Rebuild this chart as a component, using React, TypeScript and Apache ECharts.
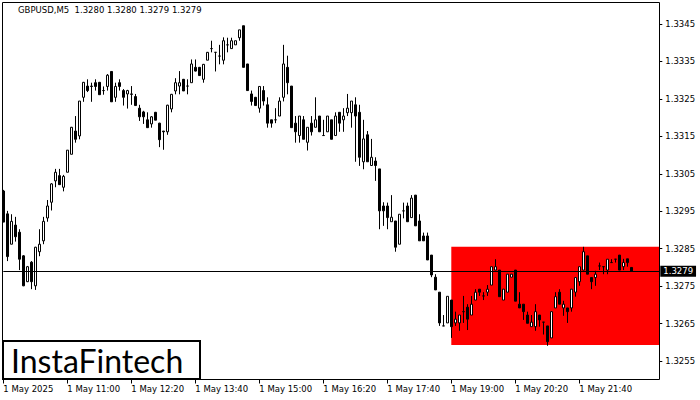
import React, { useEffect, useRef } from "react";
import * as echarts from "echarts";

const symbolTitle = "GBPUSD,M5  1.3280 1.3280 1.3279 1.3279";
const logoText = "InstaFintech";

const openP = [
  1.33004, 1.32943, 1.32862, 1.32913, 1.32894, 1.32831, 1.32762, 1.32814, 1.32751, 1.32842,
  1.32871, 1.32932, 1.32974, 1.33031, 1.33045, 1.33014, 1.33054, 1.33102, 1.33164, 1.33151,
  1.33254, 1.33284, 1.33284, 1.33293, 1.33294, 1.33272, 1.33283, 1.33323, 1.33254, 1.33293,
  1.33272, 1.33263, 1.33263, 1.33256, 1.33225, 1.33215, 1.33194, 1.33183, 1.33214, 1.33185,
  1.33164, 1.33162, 1.33223, 1.33271, 1.33284, 1.33302, 1.33284, 1.33293, 1.33334, 1.33334,
  1.33302, 1.33353, 1.33384, 1.33374, 1.33364, 1.33353, 1.33394, 1.33384, 1.33394, 1.33413,
  1.33445, 1.33343, 1.33263, 1.33254, 1.33225, 1.33272, 1.33234, 1.33194, 1.33194, 1.33204,
  1.33254, 1.33334, 1.33284, 1.33185, 1.33152, 1.33194, 1.33134, 1.33185, 1.33174, 1.33204,
  1.33152, 1.33162, 1.33194, 1.33152, 1.33214, 1.33194, 1.33213, 1.33213, 1.33234, 1.33214,
  1.33082, 1.33154, 1.33072, 1.33084, 1.33063, 1.32964, 1.32964, 1.32922, 1.32924, 1.32862,
  1.32951, 1.32964, 1.32933, 1.32993, 1.32924, 1.32884, 1.32884, 1.32833, 1.32774, 1.32734,
  1.32644, 1.32652, 1.32713, 1.32652, 1.32652, 1.32682, 1.32694, 1.32673, 1.32713, 1.32742,
  1.32724, 1.32734, 1.32753, 1.32793, 1.32793, 1.32713, 1.32734, 1.32774, 1.32793, 1.32702,
  1.32702, 1.32673, 1.32642, 1.32642, 1.32673, 1.32654, 1.32644, 1.32612, 1.32692, 1.32734,
  1.32692, 1.32692, 1.32692, 1.32734, 1.32762, 1.32793, 1.32831, 1.32773, 1.32773, 1.32804,
  1.32802, 1.32793, 1.32813, 1.32822, 1.32833, 1.32802, 1.32823, 1.328
];
const closeP = [
  1.32921, 1.32829, 1.32923, 1.32882, 1.32822, 1.32751, 1.32802, 1.32762, 1.32854, 1.32862,
  1.32923, 1.32964, 1.33023, 1.33054, 1.33021, 1.33043, 1.33113, 1.33174, 1.33142, 1.33244,
  1.33294, 1.33272, 1.33283, 1.33283, 1.33261, 1.33272, 1.33313, 1.33242, 1.33283, 1.33283,
  1.33254, 1.33272, 1.33262, 1.33232, 1.33202, 1.33202, 1.33173, 1.33202, 1.33193, 1.33141,
  1.33162, 1.33233, 1.33262, 1.33293, 1.33293, 1.33271, 1.33284, 1.33343, 1.33324, 1.33312,
  1.33342, 1.33374, 1.33384, 1.33374, 1.33364, 1.33405, 1.33394, 1.33405, 1.33405, 1.33434,
  1.33334, 1.33272, 1.33243, 1.33232, 1.33283, 1.33244, 1.33185, 1.33185, 1.33194, 1.33244,
  1.33343, 1.33293, 1.33173, 1.33162, 1.33204, 1.33142, 1.33174, 1.33162, 1.33194, 1.33162,
  1.33152, 1.33204, 1.33142, 1.33204, 1.33185, 1.33204, 1.33225, 1.33244, 1.33204, 1.33094,
  1.33143, 1.33082, 1.33094, 1.33072, 1.32951, 1.32951, 1.32933, 1.32934, 1.32854, 1.32942,
  1.32951, 1.32922, 1.32985, 1.32911, 1.32871, 1.32871, 1.3282, 1.3278, 1.3274, 1.32652,
  1.32644, 1.32723, 1.32642, 1.32662, 1.32673, 1.32682, 1.32662, 1.32702, 1.32734, 1.32734,
  1.32724, 1.32742, 1.32802, 1.32802, 1.32722, 1.32742, 1.32782, 1.32782, 1.3271, 1.32692,
  1.32682, 1.32651, 1.32654, 1.32682, 1.3266, 1.32654, 1.32602, 1.32682, 1.32722, 1.32702,
  1.32702, 1.32682, 1.32742, 1.32773, 1.32802, 1.32842, 1.32782, 1.32762, 1.32782, 1.32804,
  1.32802, 1.32822, 1.32813, 1.32822, 1.32793, 1.32813, 1.32813, 1.3279
];
const lowP = [
  1.32921, 1.32817, 1.32862, 1.32869, 1.32793, 1.3275, 1.32761, 1.32742, 1.3274, 1.3283,
  1.32862, 1.32922, 1.32952, 1.33014, 1.3302, 1.33003, 1.33054, 1.33102, 1.33133, 1.33142,
  1.33242, 1.33268, 1.33242, 1.33272, 1.33261, 1.33261, 1.33272, 1.33242, 1.33242, 1.33272,
  1.33232, 1.33224, 1.33234, 1.33232, 1.33191, 1.33183, 1.33173, 1.33173, 1.33193, 1.33121,
  1.33114, 1.33154, 1.33214, 1.33262, 1.33262, 1.33271, 1.33262, 1.33293, 1.33323, 1.33312,
  1.33293, 1.33353, 1.33374, 1.33323, 1.33342, 1.33342, 1.33374, 1.33384, 1.33394, 1.33405,
  1.33334, 1.33272, 1.33232, 1.33232, 1.33213, 1.33232, 1.33173, 1.33173, 1.33185, 1.33204,
  1.33243, 1.33262, 1.33173, 1.33133, 1.33133, 1.33142, 1.33112, 1.33152, 1.33174, 1.33162,
  1.33152, 1.33162, 1.33142, 1.33152, 1.33162, 1.33162, 1.33204, 1.33173, 1.33082, 1.33071,
  1.33062, 1.33082, 1.33072, 1.33031, 1.32902, 1.32911, 1.32902, 1.32922, 1.32842, 1.32862,
  1.32931, 1.32922, 1.32933, 1.32911, 1.32871, 1.32871, 1.3282, 1.32774, 1.3274, 1.32644,
  1.32644, 1.32652, 1.32612, 1.32644, 1.32631, 1.32652, 1.32633, 1.32673, 1.32713, 1.32724,
  1.32713, 1.32724, 1.32753, 1.32793, 1.32722, 1.32713, 1.32734, 1.32774, 1.3271, 1.32692,
  1.3266, 1.32651, 1.32642, 1.32631, 1.32642, 1.32621, 1.32591, 1.32612, 1.32692, 1.32702,
  1.32671, 1.32652, 1.32682, 1.32722, 1.32751, 1.32793, 1.32782, 1.32742, 1.32751, 1.32793,
  1.32782, 1.32782, 1.32813, 1.32813, 1.32793, 1.32793, 1.32802, 1.3279
];
const highP = [
  1.33007, 1.32951, 1.32942, 1.32935, 1.32902, 1.32833, 1.32804, 1.32817, 1.32855, 1.32902,
  1.32935, 1.3298, 1.33025, 1.33063, 1.33063, 1.33047, 1.33113, 1.33175, 1.33204, 1.33244,
  1.33295, 1.33302, 1.33293, 1.33302, 1.33295, 1.33283, 1.33316, 1.33323, 1.33293, 1.33302,
  1.33276, 1.33274, 1.33284, 1.33263, 1.33234, 1.33218, 1.33214, 1.33204, 1.33215, 1.33186,
  1.33164, 1.33234, 1.33263, 1.33305, 1.33324, 1.33303, 1.33302, 1.33355, 1.33355, 1.33335,
  1.33343, 1.33375, 1.33405, 1.33374, 1.33394, 1.33414, 1.33413, 1.33413, 1.33405, 1.33434,
  1.33445, 1.33343, 1.33272, 1.33255, 1.33283, 1.33284, 1.33254, 1.33194, 1.33225, 1.33254,
  1.33394, 1.33365, 1.33284, 1.33204, 1.33204, 1.33204, 1.33174, 1.33204, 1.33254, 1.33204,
  1.33194, 1.33204, 1.33194, 1.33214, 1.33214, 1.33225, 1.33263, 1.33244, 1.33254, 1.33234,
  1.33194, 1.33164, 1.33143, 1.33094, 1.33063, 1.32974, 1.32973, 1.32993, 1.32924, 1.32942,
  1.32973, 1.32973, 1.32993, 1.32993, 1.32942, 1.32893, 1.32893, 1.32833, 1.32782, 1.32734,
  1.32673, 1.32723, 1.32713, 1.32682, 1.32673, 1.32724, 1.32702, 1.32724, 1.32742, 1.32742,
  1.32734, 1.32753, 1.32802, 1.32822, 1.32793, 1.32742, 1.32782, 1.32782, 1.32793, 1.32734,
  1.32702, 1.32682, 1.32673, 1.32702, 1.32673, 1.32654, 1.32644, 1.32682, 1.32734, 1.32742,
  1.32711, 1.32692, 1.32742, 1.32773, 1.32802, 1.32855, 1.32831, 1.32773, 1.32791, 1.32813,
  1.32802, 1.32822, 1.32822, 1.32822, 1.32833, 1.32823, 1.32823, 1.328
];

const lastPrice = 1.3279;
const zoneTop = 1.32855;
const zoneBottom = 1.32593;
const zoneStartIndex = 112;
const zoneEndIndex = 164;

const yMin = 1.32501;
const yMax = 1.33507;
const yTickValues = [1.3255, 1.3265, 1.3275, 1.3285, 1.3295, 1.3305, 1.3315, 1.3325, 1.3335, 1.3345];

const xTickLabels = [
  "1 May 2025", "1 May 11:00", "1 May 12:20", "1 May 13:40", "1 May 15:00",
  "1 May 16:20", "1 May 17:40", "1 May 19:00", "1 May 20:20", "1 May 21:40"
];
const xTickStep = 16;
const startMinutes = 9 * 60 + 40;
const barMinutes = 5;
const totalSlots = 165;

const categories = Array.from({ length: totalSlots }, (_, i) => {
  const m = startMinutes + i * barMinutes;
  const h = Math.floor(m / 60) % 24;
  const mm = m % 60;
  return String(h).padStart(2, "0") + ":" + String(mm).padStart(2, "0");
});

const candleData = openP.map((o, i) => [o, closeP[i], lowP[i], highP[i]]);

const FONT = "DejaVu Sans";

export default function App() {
  const ref = useRef<HTMLDivElement>(null);
  useEffect(() => {
    if (!ref.current) return;
    const chart = echarts.init(ref.current, undefined, { renderer: "svg" });
    const isTick = (i: number) => i % xTickStep === 0 && i / xTickStep < xTickLabels.length;
    chart.setOption({
      animation: false,
      backgroundColor: "#ffffff",
      grid: { left: 1.3, top: 2.5, width: 660, height: 377, show: false },
      xAxis: {
        type: "category",
        data: categories,
        boundaryGap: true,
        axisLine: { show: false },
        axisTick: {
          show: true,
          alignWithLabel: true,
          interval: (i: number) => isTick(i),
          length: 4,
          lineStyle: { color: "#000", width: 1 },
        },
        axisLabel: {
          interval: (i: number) => isTick(i),
          formatter: (_v: string, i: number) => xTickLabels[Math.round(i / xTickStep)] ?? "",
          align: "left",
          margin: 5,
          fontSize: 8.5,
          fontFamily: FONT,
          color: "#000",
        },
        splitLine: { show: false },
      },
      yAxis: {
        type: "value",
        position: "right",
        min: yMin,
        max: yMax,
        offset: -2,
        axisLine: { show: false },
        axisTick: {
          show: true,
          length: 3,
          customValues: yTickValues,
          lineStyle: { color: "#000", width: 1 },
        },
        axisLabel: {
          customValues: yTickValues,
          formatter: (v: number) => v.toFixed(4),
          margin: 6,
          fontSize: 8.5,
          fontFamily: FONT,
          color: "#000",
        },
        splitLine: { show: false },
      },
      series: [
        {
          type: "line",
          data: [],
          z: 1,
          silent: true,
          markArea: {
            silent: true,
            itemStyle: { color: "#ff0000", opacity: 1, borderWidth: 0 },
            data: [[
              { xAxis: categories[zoneStartIndex], yAxis: zoneTop },
              { xAxis: categories[zoneEndIndex], yAxis: zoneBottom },
            ]],
          },
        },
        {
          type: "candlestick",
          z: 3,
          data: candleData,
          barWidth: 2,
          itemStyle: {
            color: "#ffffff",
            color0: "#000000",
            borderColor: "#000000",
            borderColor0: "#000000",
            borderColorDoji: "#000000",
            borderWidth: 1,
          },
        },
        {
          type: "line",
          data: [],
          z: 5,
          silent: true,
          markLine: {
            silent: true,
            symbol: "none",
            lineStyle: { color: "#000", width: 1, type: "solid" },
            label: {
              show: true,
              position: "end",
              distance: 1,
              formatter: () => lastPrice.toFixed(4),
              backgroundColor: "#000",
              color: "#fff",
              padding: [1, 3, 0, 3],
              fontSize: 8.5,
              fontFamily: FONT,
              lineHeight: 10,
            },
            data: [[
              { coord: [categories[0], lastPrice] },
              { coord: [categories[totalSlots - 1], lastPrice] },
            ]],
          },
        },
      ],
      graphic: [
        {
          type: "rect",
          z: 100,
          silent: true,
          shape: { x: 2.5, y: 2.5, width: 657, height: 377 },
          style: { fill: "none", stroke: "#000", lineWidth: 1 },
        },
        {
          type: "text",
          z: 100,
          left: 18,
          top: 5,
          style: { text: symbolTitle, font: "8.5px 'DejaVu Sans'", fill: "#000" },
        },
        {
          type: "rect",
          z: 101,
          silent: true,
          shape: { x: 3, y: 341, width: 197, height: 38 },
          style: { fill: "#fff", stroke: "#000", lineWidth: 2 },
        },
        {
          type: "text",
          z: 102,
          x: 11,
          y: 360,
          style: {
            text: logoText,
            font: "32px Lato",
            fill: "#000",
            verticalAlign: "middle",
            align: "left",
          },
        },
      ],
    });
    return () => chart.dispose();
  }, []);
  return (
    <div
      ref={ref}
      style={{ position: "absolute", left: 0, top: 0, width: 700, height: 400 }}
    />
  );
}
